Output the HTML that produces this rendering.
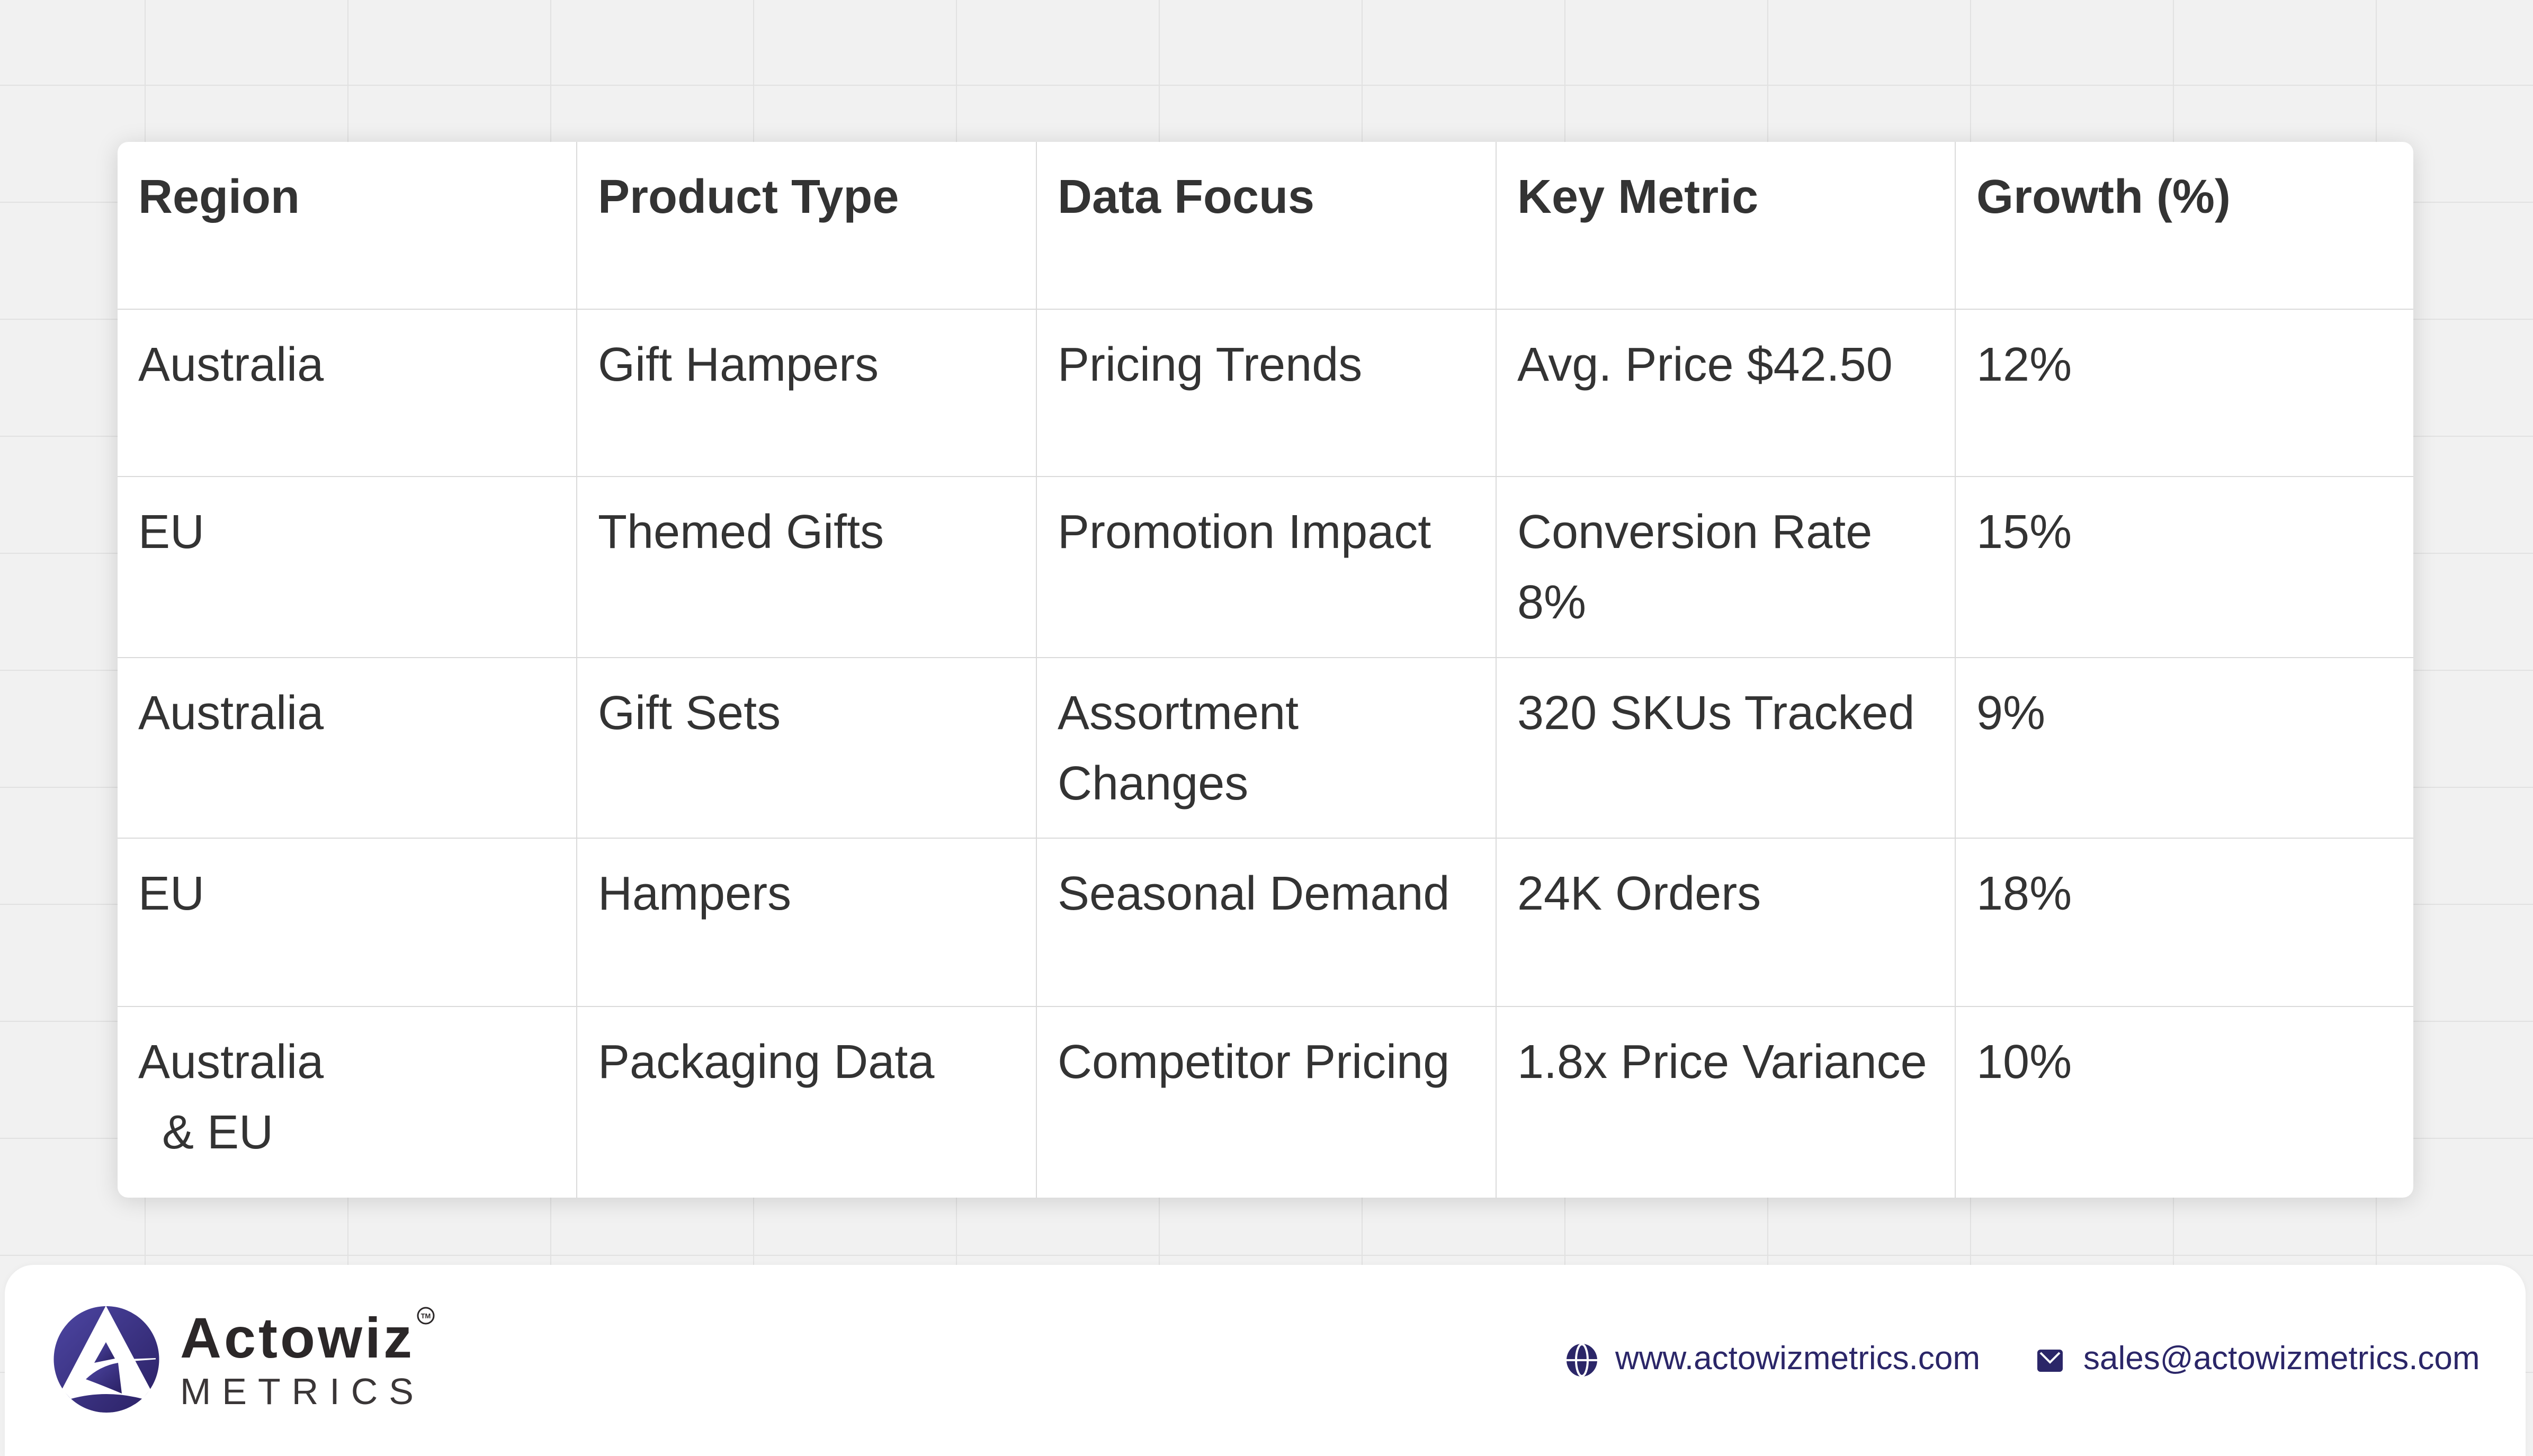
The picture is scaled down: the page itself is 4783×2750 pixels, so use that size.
<!DOCTYPE html>
<html>
<head>
<meta charset="utf-8">
<style>
  html{margin:0;padding:0;width:4783px;height:2750px;overflow:hidden;}
  body{
    margin:0;padding:0;
    width:4783px;height:2750px;overflow:hidden;position:relative;
    background-color:#f1f1f1;
    background-image:
      linear-gradient(to right, #e1e1e1 2px, transparent 2px),
      linear-gradient(to bottom, #e1e1e1 2px, transparent 2px);
    background-size:383px 221px, 383px 221px;
    background-position:273px 160px, 273px 160px;
    font-family:"Liberation Sans", Arial, sans-serif;
  }
  .card{
    position:absolute;left:222px;top:268px;width:4335px;height:1994px;
    background:#fff;border-radius:20px;overflow:hidden;
    box-shadow:0 6px 45px rgba(0,0,0,0.14);
  }
  .hl{position:absolute;left:0;width:4335px;height:2px;background:#dadada;}
  .vl{position:absolute;top:0;width:2px;height:1994px;background:#dadada;}
  .c{position:absolute;font-size:90px;line-height:133px;color:#333;white-space:nowrap;}
  .h{font-weight:bold;}
  .footer{
    position:absolute;left:9px;top:2389px;width:4760px;height:361px;
    background:#fff;border-radius:55px 55px 0 0;
    box-shadow:0 0 12px rgba(0,0,0,0.04);
  }
  .ft{position:absolute;font-size:62px;line-height:62px;color:#2b2668;white-space:nowrap;}
</style>
</head>
<body>

<div class="card">
  <div class="hl" style="top:315px"></div>
  <div class="hl" style="top:631px"></div>
  <div class="hl" style="top:973px"></div>
  <div class="hl" style="top:1314px"></div>
  <div class="hl" style="top:1632px"></div>
  <div class="vl" style="left:866px"></div>
  <div class="vl" style="left:1734px"></div>
  <div class="vl" style="left:2602px"></div>
  <div class="vl" style="left:3469px"></div>

  <!-- header -->
  <div class="c h" style="left:39px;top:38px">Region</div>
  <div class="c h" style="left:907px;top:38px">Product Type</div>
  <div class="c h" style="left:1775px;top:38px">Data Focus</div>
  <div class="c h" style="left:2643px;top:38px">Key Metric</div>
  <div class="c h" style="left:3510px;top:38px">Growth (%)</div>

  <!-- row 1 -->
  <div class="c" style="left:39px;top:355px">Australia</div>
  <div class="c" style="left:907px;top:355px">Gift Hampers</div>
  <div class="c" style="left:1775px;top:355px">Pricing Trends</div>
  <div class="c" style="left:2643px;top:355px">Avg. Price $42.50</div>
  <div class="c" style="left:3510px;top:355px">12%</div>

  <!-- row 2 -->
  <div class="c" style="left:39px;top:671px">EU</div>
  <div class="c" style="left:907px;top:671px">Themed Gifts</div>
  <div class="c" style="left:1775px;top:671px">Promotion Impact</div>
  <div class="c" style="left:2643px;top:671px">Conversion Rate<br>8%</div>
  <div class="c" style="left:3510px;top:671px">15%</div>

  <!-- row 3 -->
  <div class="c" style="left:39px;top:1013px">Australia</div>
  <div class="c" style="left:907px;top:1013px">Gift Sets</div>
  <div class="c" style="left:1775px;top:1013px">Assortment<br>Changes</div>
  <div class="c" style="left:2643px;top:1013px">320 SKUs Tracked</div>
  <div class="c" style="left:3510px;top:1013px">9%</div>

  <!-- row 4 -->
  <div class="c" style="left:39px;top:1354px">EU</div>
  <div class="c" style="left:907px;top:1354px">Hampers</div>
  <div class="c" style="left:1775px;top:1354px">Seasonal Demand</div>
  <div class="c" style="left:2643px;top:1354px">24K Orders</div>
  <div class="c" style="left:3510px;top:1354px">18%</div>

  <!-- row 5 -->
  <div class="c" style="left:39px;top:1672px">Australia<br><span style="padding-left:45px">&amp; EU</span></div>
  <div class="c" style="left:907px;top:1672px">Packaging Data</div>
  <div class="c" style="left:1775px;top:1672px">Competitor Pricing</div>
  <div class="c" style="left:2643px;top:1672px">1.8x Price Variance</div>
  <div class="c" style="left:3510px;top:1672px">10%</div>
</div>

<div class="footer"></div>

<!-- logo mark -->
<svg style="position:absolute;left:80px;top:2440px" width="300" height="260" viewBox="0 0 300 260">
  <defs>
    <linearGradient id="lg" x1="0" y1="0" x2="1" y2="1">
      <stop offset="0" stop-color="#4d46a3"/>
      <stop offset="1" stop-color="#2a2063"/>
    </linearGradient>
  </defs>
  <ellipse cx="121" cy="127.5" rx="99.5" ry="100.5" fill="url(#lg)"/>
  <path d="M120,26 L204,184 L189,202 Q120,184 54,202 L37,184 Z" fill="#fff"/>
  <path d="M120,95 L98,134 L137,126 Z" fill="url(#lg)"/>
  <path d="M82,165 Q108,140 143,134 L150,192 Q112,176 82,165 Z" fill="url(#lg)"/>
  <path d="M136,128 L214,125 L214,127.5 L140,133 Z" fill="#fff"/>
</svg>

<!-- logo text -->
<div style="position:absolute;left:340px;top:2473px;font-size:108px;line-height:108px;font-weight:bold;letter-spacing:5px;color:#2b2728;white-space:nowrap;">Actowiz</div>
<div style="position:absolute;left:340px;top:2593px;font-size:70px;line-height:70px;font-weight:300;letter-spacing:21px;color:#3a3637;white-space:nowrap;">METRICS</div>
<svg style="position:absolute;left:785px;top:2466px" width="38" height="38" viewBox="0 0 38 38">
  <circle cx="19" cy="19" r="15" fill="none" stroke="#2b2728" stroke-width="3"/>
  <text x="19" y="24" font-family="Liberation Sans, Arial, sans-serif" font-size="13" font-weight="bold" text-anchor="middle" fill="#2b2728">TM</text>
</svg>

<!-- globe icon -->
<svg style="position:absolute;left:2956px;top:2537px" width="62" height="64" viewBox="0 0 62 64">
  <ellipse cx="31" cy="32" rx="29" ry="31" fill="#2b2668"/>
  <line x1="0" y1="32" x2="62" y2="32" stroke="#fff" stroke-width="4"/>
  <ellipse cx="31" cy="32" rx="11" ry="30" fill="none" stroke="#fff" stroke-width="4"/>
</svg>
<div class="ft" style="left:3050px;top:2535px">www.actowizmetrics.com</div>

<!-- mail icon -->
<svg style="position:absolute;left:3847px;top:2549px" width="48" height="42" viewBox="0 0 48 42">
  <rect x="0" y="0" width="48" height="42" rx="6" fill="#2b2668"/>
  <polyline points="6,6 24,24 42,6" fill="none" stroke="#fff" stroke-width="4"/>
</svg>
<div class="ft" style="left:3934px;top:2535px">sales@actowizmetrics.com</div>

</body>
</html>
